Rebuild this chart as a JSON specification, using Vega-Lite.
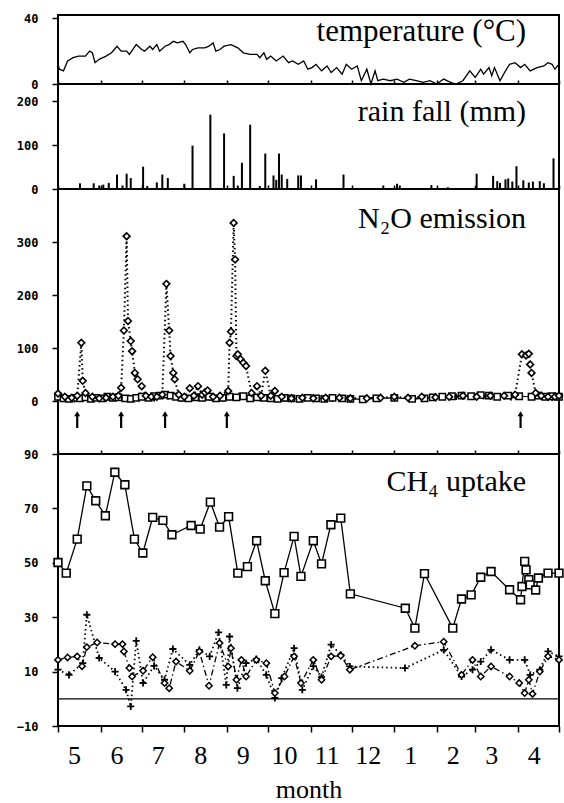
{
  "$schema": "https://vega.github.io/schema/vega-lite/v6.json",
  "padding": {"left": 15, "top": 11, "right": 5, "bottom": 5},
  "spacing": 0,
  "bounds": "flush",
  "background": "white",
  "config": {
    "view": {"stroke": "black", "strokeWidth": 2},
    "axis": {"labelFont": "DejaVu Sans Mono", "labelFontWeight": "bold", "labelFontSize": 12, "labelColor": "black", "tickColor": "black", "domainColor": "black", "grid": false, "tickWidth": 1.5, "labelOverlap": false},
    "concat": {"spacing": 0}
  },
  "datasets": {
    "temp": [
      {"day":0,"t":12},{"day":1,"t":9},{"day":4,"t":8},{"day":7,"t":14},{"day":11,"t":16},{"day":15,"t":17},{"day":20,"t":17},{"day":23,"t":20},{"day":25,"t":19},{"day":27,"t":13},{"day":30,"t":15},{"day":35,"t":17},{"day":39,"t":19},{"day":43,"t":23},{"day":46,"t":20},{"day":50,"t":20},{"day":52,"t":18},{"day":57,"t":24},{"day":61,"t":21},{"day":63,"t":20},{"day":67,"t":23},{"day":69,"t":21},{"day":72,"t":24},{"day":74,"t":20},{"day":78,"t":23},{"day":81,"t":24},{"day":84,"t":26},{"day":87,"t":25},{"day":91,"t":26},{"day":93,"t":24},{"day":96,"t":19},{"day":98,"t":21},{"day":102,"t":22},{"day":107,"t":22},{"day":110,"t":23},{"day":113,"t":25},{"day":115,"t":20},{"day":118,"t":21},{"day":121,"t":23},{"day":126,"t":24},{"day":131,"t":22},{"day":135,"t":19},{"day":140,"t":18},{"day":145,"t":18},{"day":147,"t":16},{"day":150,"t":19},{"day":152,"t":15},{"day":155,"t":17},{"day":159,"t":14},{"day":164,"t":17},{"day":168,"t":13},{"day":171,"t":14},{"day":175,"t":12},{"day":179,"t":14},{"day":182,"t":9},{"day":185,"t":10},{"day":188,"t":12},{"day":192,"t":8},{"day":196,"t":11},{"day":199,"t":7},{"day":203,"t":10},{"day":207,"t":6},{"day":210,"t":12},{"day":214,"t":9},{"day":218,"t":11},{"day":221,"t":2},{"day":225,"t":9},{"day":228,"t":0},{"day":231,"t":8},{"day":233,"t":2},{"day":237,"t":3},{"day":242,"t":2},{"day":247,"t":3},{"day":252,"t":1},{"day":256,"t":3},{"day":261,"t":2},{"day":266,"t":1},{"day":271,"t":2},{"day":276,"t":0},{"day":281,"t":3},{"day":286,"t":1},{"day":290,"t":0},{"day":295,"t":2},{"day":300,"t":8},{"day":304,"t":4},{"day":308,"t":9},{"day":310,"t":6},{"day":314,"t":10},{"day":316,"t":5},{"day":318,"t":10},{"day":322,"t":2},{"day":326,"t":8},{"day":329,"t":12},{"day":333,"t":13},{"day":337,"t":10},{"day":340,"t":12},{"day":344,"t":8},{"day":349,"t":10},{"day":354,"t":11},{"day":357,"t":13},{"day":360,"t":12},{"day":362,"t":9},{"day":365,"t":12}
    ],
    "rain": [
      {"day":16,"mm":13},{"day":26,"mm":13},{"day":30,"mm":8},{"day":33,"mm":10},{"day":37,"mm":14},{"day":43,"mm":33},{"day":47,"mm":8},{"day":50,"mm":35},{"day":53,"mm":25},{"day":62,"mm":51},{"day":65,"mm":7},{"day":72,"mm":15},{"day":76,"mm":33},{"day":80,"mm":25},{"day":92,"mm":12},{"day":98,"mm":99},{"day":111,"mm":170},{"day":121,"mm":127},{"day":128,"mm":30},{"day":131,"mm":8},{"day":134,"mm":60},{"day":140,"mm":147},{"day":147,"mm":7},{"day":151,"mm":81},{"day":157,"mm":31},{"day":159,"mm":21},{"day":161,"mm":81},{"day":163,"mm":33},{"day":167,"mm":23},{"day":175,"mm":31},{"day":177,"mm":31},{"day":188,"mm":22},{"day":208,"mm":33},{"day":237,"mm":8},{"day":247,"mm":12},{"day":249,"mm":8},{"day":272,"mm":9},{"day":284,"mm":4},{"day":305,"mm":35},{"day":317,"mm":30},{"day":320,"mm":18},{"day":322,"mm":14},{"day":326,"mm":22},{"day":328,"mm":24},{"day":331,"mm":17},{"day":334,"mm":52},{"day":339,"mm":20},{"day":343,"mm":15},{"day":346,"mm":17},{"day":351,"mm":18},{"day":354,"mm":13},{"day":361,"mm":70}
    ],
    "n2o_d": [
      {"day":0,"v":14},{"day":5,"v":8},{"day":10,"v":6},{"day":14,"v":10},{"day":17,"v":110},{"day":18,"v":38},{"day":20,"v":15},{"day":25,"v":8},{"day":30,"v":5},{"day":35,"v":6},{"day":40,"v":8},{"day":44,"v":10},{"day":46,"v":25},{"day":48,"v":133},{"day":50,"v":311},{"day":51,"v":151},{"day":53,"v":113},{"day":54,"v":94},{"day":56,"v":53},{"day":58,"v":41},{"day":61,"v":28},{"day":64,"v":10},{"day":68,"v":8},{"day":72,"v":8},{"day":76,"v":12},{"day":79,"v":221},{"day":81,"v":133},{"day":82,"v":85},{"day":84,"v":53},{"day":85,"v":41},{"day":88,"v":12},{"day":92,"v":8},{"day":96,"v":24},{"day":99,"v":10},{"day":102,"v":28},{"day":105,"v":12},{"day":107,"v":16},{"day":109,"v":20},{"day":113,"v":8},{"day":118,"v":10},{"day":124,"v":19},{"day":125,"v":110},{"day":126,"v":131},{"day":128,"v":336},{"day":129,"v":267},{"day":130,"v":85},{"day":131,"v":88},{"day":133,"v":79},{"day":135,"v":72},{"day":137,"v":66},{"day":141,"v":15},{"day":145,"v":28},{"day":148,"v":10},{"day":151,"v":57},{"day":155,"v":10},{"day":158,"v":19},{"day":163,"v":8},{"day":170,"v":5},{"day":178,"v":6},{"day":186,"v":5},{"day":195,"v":6},{"day":205,"v":6},{"day":213,"v":5},{"day":225,"v":5},{"day":235,"v":6},{"day":245,"v":8},{"day":255,"v":6},{"day":265,"v":8},{"day":275,"v":7},{"day":285,"v":8},{"day":295,"v":10},{"day":305,"v":8},{"day":315,"v":10},{"day":325,"v":10},{"day":333,"v":12},{"day":338,"v":88},{"day":341,"v":86},{"day":343,"v":89},{"day":344,"v":69},{"day":345,"v":53},{"day":348,"v":15},{"day":352,"v":10},{"day":357,"v":8},{"day":362,"v":8},{"day":365,"v":10}
    ],
    "n2o_s": [
      {"day":0,"v":8},{"day":4,"v":5},{"day":8,"v":4},{"day":12,"v":6},{"day":16,"v":5},{"day":20,"v":7},{"day":24,"v":4},{"day":28,"v":6},{"day":32,"v":5},{"day":36,"v":8},{"day":40,"v":6},{"day":44,"v":7},{"day":49,"v":5},{"day":53,"v":4},{"day":57,"v":6},{"day":61,"v":8},{"day":66,"v":6},{"day":70,"v":9},{"day":74,"v":10},{"day":78,"v":12},{"day":82,"v":10},{"day":86,"v":8},{"day":90,"v":6},{"day":95,"v":5},{"day":100,"v":7},{"day":105,"v":6},{"day":110,"v":8},{"day":115,"v":5},{"day":120,"v":6},{"day":125,"v":8},{"day":130,"v":7},{"day":135,"v":9},{"day":140,"v":5},{"day":145,"v":7},{"day":150,"v":6},{"day":155,"v":5},{"day":160,"v":4},{"day":165,"v":6},{"day":170,"v":5},{"day":176,"v":4},{"day":182,"v":6},{"day":188,"v":5},{"day":194,"v":4},{"day":200,"v":6},{"day":207,"v":5},{"day":213,"v":4},{"day":222,"v":3},{"day":232,"v":5},{"day":245,"v":6},{"day":258,"v":4},{"day":267,"v":5},{"day":273,"v":7},{"day":280,"v":8},{"day":287,"v":9},{"day":294,"v":10},{"day":301,"v":9},{"day":308,"v":11},{"day":314,"v":10},{"day":320,"v":8},{"day":328,"v":10},{"day":336,"v":9},{"day":345,"v":8},{"day":350,"v":10},{"day":355,"v":8},{"day":360,"v":9},{"day":365,"v":8}
    ],
    "n2o_p": [
      {"day":3,"v":5},{"day":12,"v":3},{"day":22,"v":6},{"day":33,"v":4},{"day":42,"v":8},{"day":52,"v":6},{"day":60,"v":10},{"day":70,"v":5},{"day":80,"v":9},{"day":90,"v":4},{"day":100,"v":12},{"day":111,"v":6},{"day":120,"v":5},{"day":132,"v":10},{"day":142,"v":8},{"day":153,"v":6},{"day":165,"v":4},{"day":180,"v":5},{"day":200,"v":4},{"day":230,"v":6},{"day":260,"v":5},{"day":290,"v":8},{"day":310,"v":9},{"day":330,"v":7},{"day":350,"v":12},{"day":360,"v":6}
    ],
    "arrows": [{"day":14},{"day":46},{"day":78},{"day":123},{"day":337}],
    "ch4_s": [
      {"day":0,"v":50.1},{"day":6,"v":46.2},{"day":14,"v":58.7},{"day":21,"v":78.3},{"day":27.5,"v":72.8},{"day":34.5,"v":67.3},{"day":41.4,"v":83.3},{"day":48.7,"v":78.7},{"day":55.7,"v":58.7},{"day":61.8,"v":53.6},{"day":69,"v":66.7},{"day":76.4,"v":65.6},{"day":83,"v":60.3},{"day":97,"v":63.7},{"day":103.6,"v":62.4},{"day":111,"v":72.3},{"day":117.7,"v":63.1},{"day":124.3,"v":67},{"day":131,"v":46.2},{"day":138,"v":48.6},{"day":144.7,"v":58.1},{"day":151,"v":43.4},{"day":158,"v":31.3},{"day":164.7,"v":46.4},{"day":172,"v":59.7},{"day":177,"v":45},{"day":186,"v":58.1},{"day":192,"v":49.6},{"day":198.8,"v":64},{"day":206,"v":66.4},{"day":213,"v":38.6},{"day":253,"v":33.3},{"day":260,"v":26},{"day":267,"v":46},{"day":287.6,"v":26},{"day":294,"v":36.7},{"day":301,"v":38.2},{"day":308,"v":44.7},{"day":315.5,"v":46.8},{"day":329,"v":40.1},{"day":337,"v":36.4},{"day":338,"v":41.3},{"day":340,"v":50.5},{"day":341,"v":47.4},{"day":343,"v":43.8},{"day":344,"v":41.9},{"day":348,"v":40},{"day":350,"v":44.4},{"day":357,"v":46.2},{"day":365,"v":46.2}
    ],
    "ch4_d": [
      {"day":0,"v":14.3},{"day":7,"v":15.2},{"day":14,"v":15.6},{"day":17.5,"v":12},{"day":21,"v":19},{"day":28.5,"v":20.7},{"day":41.6,"v":20.1},{"day":47,"v":20.1},{"day":48,"v":17.4},{"day":52,"v":11.3},{"day":54,"v":8.2},{"day":62,"v":10.3},{"day":69,"v":15.3},{"day":77.6,"v":5.8},{"day":81,"v":3.9},{"day":86,"v":13.7},{"day":96,"v":10.3},{"day":103,"v":17.4},{"day":110,"v":4.8},{"day":117.7,"v":20.5},{"day":124,"v":11.9},{"day":126,"v":18.6},{"day":130,"v":7},{"day":133.6,"v":14.3},{"day":137,"v":8.2},{"day":144.5,"v":14.3},{"day":151.8,"v":13.1},{"day":158,"v":2.1},{"day":165,"v":8.2},{"day":172,"v":15.6},{"day":177,"v":5.8},{"day":186,"v":14.3},{"day":192,"v":7},{"day":199,"v":15.6},{"day":206,"v":15.8},{"day":212.6,"v":10.7},{"day":260,"v":19.5},{"day":281,"v":21},{"day":294,"v":8.8},{"day":302,"v":14.3},{"day":308,"v":8.2},{"day":315.5,"v":11.9},{"day":329,"v":8.2},{"day":336,"v":5.8},{"day":340,"v":2.1},{"day":343,"v":7},{"day":345.7,"v":1.8},{"day":351,"v":10},{"day":357,"v":15.6},{"day":365,"v":14.3}
    ],
    "ch4_p": [
      {"day":0,"v":10.7},{"day":8,"v":8.8},{"day":18,"v":13.1},{"day":21,"v":30.9},{"day":30,"v":15},{"day":41.6,"v":10},{"day":49.6,"v":3.3},{"day":53,"v":-2.8},{"day":57,"v":21.3},{"day":62,"v":5.8},{"day":70,"v":12.1},{"day":77.6,"v":7},{"day":83.7,"v":18.3},{"day":96,"v":12.5},{"day":103,"v":18},{"day":110.5,"v":15.6},{"day":117,"v":24.4},{"day":122.6,"v":5.1},{"day":125,"v":22.9},{"day":130.7,"v":3.9},{"day":137,"v":13.1},{"day":144.5,"v":14.6},{"day":151.8,"v":8.8},{"day":158,"v":0.3},{"day":163,"v":7.6},{"day":172,"v":18.6},{"day":178,"v":3.3},{"day":186,"v":12},{"day":192,"v":8},{"day":199,"v":19.9},{"day":206,"v":16.2},{"day":212.6,"v":11.9},{"day":252.8,"v":11.3},{"day":281,"v":18},{"day":294,"v":8.2},{"day":302,"v":10.7},{"day":308,"v":13.7},{"day":315.5,"v":18},{"day":329,"v":14.3},{"day":340,"v":14.3},{"day":344,"v":8.8},{"day":351,"v":10.7},{"day":357,"v":17.4},{"day":365,"v":15.6}
    ]
  },
  "vconcat": [
    {
      "width": 501, "height": 69,
      "layer": [
        {"data": {"name": "temp"}, "mark": {"type": "line", "color": "black", "strokeWidth": 1.3},
         "encoding": {
           "x": {"field": "day", "type": "quantitative", "scale": {"domain": [0, 365], "nice": false, "zero": false}, "axis": {"values": [0,31,61,92,123,153,184,214,245,276,304,335,365], "labels": false, "tickSize": -4, "domain": false, "title": null}},
           "y": {"field": "t", "type": "quantitative", "scale": {"domain": [0, 42], "nice": false}, "axis": {"values": [0, 20, 40], "title": null, "tickSize": 6, "labelPadding": 14, "domain": false}}
         }},
        {"data": {"values": [{"label": "temperature (°C)"}]},
         "mark": {"type": "text", "font": "Liberation Serif", "fontSize": 31, "align": "right", "baseline": "alphabetic", "color": "black"},
         "encoding": {"x": {"datum": 341}, "y": {"datum": 26}, "text": {"field": "label"}}}
      ]
    },
    {
      "width": 501, "height": 105,
      "layer": [
        {"data": {"name": "rain"}, "mark": {"type": "rule", "color": "black", "strokeWidth": 2},
         "encoding": {
           "x": {"field": "day", "type": "quantitative", "scale": {"domain": [0, 365], "nice": false, "zero": false}, "axis": {"values": [0,31,61,92,123,153,184,214,245,276,304,335,365], "labels": false, "tickSize": -4, "domain": false, "title": null}},
           "y": {"field": "mm", "type": "quantitative", "scale": {"domain": [0, 240], "nice": false}, "axis": {"values": [0, 100, 200], "title": null, "tickSize": 6, "labelPadding": 14, "domain": false}},
           "y2": {"datum": 0}
         }},
        {"data": {"values": [{"label": "rain fall (mm)"}]},
         "mark": {"type": "text", "font": "Liberation Serif", "fontSize": 30, "align": "right", "baseline": "alphabetic", "color": "black"},
         "encoding": {"x": {"datum": 341}, "y": {"datum": 155}, "text": {"field": "label"}}}
      ]
    },
    {
      "width": 501, "height": 265,
      "layer": [
        {"data": {"name": "n2o_s"}, "mark": {"type": "line", "color": "black", "strokeWidth": 1.2},
         "encoding": {
           "x": {"field": "day", "type": "quantitative", "scale": {"domain": [0, 365], "nice": false, "zero": false}, "axis": {"values": [0,31,61,92,123,153,184,214,245,276,304,335,365], "labels": false, "tickSize": -4, "domain": false, "title": null}},
           "y": {"field": "v", "type": "quantitative", "scale": {"domain": [-100, 400], "nice": false}, "axis": {"values": [0, 100, 200, 300], "title": null, "tickSize": 6, "labelPadding": 14, "domain": false}}
         }},
        {"data": {"name": "n2o_d"}, "mark": {"type": "line", "color": "black", "strokeWidth": 2, "strokeDash": [1.5, 3]},
         "encoding": {"x": {"field": "day", "type": "quantitative"}, "y": {"field": "v", "type": "quantitative"}}},
        {"data": {"name": "n2o_p"}, "mark": {"type": "point", "shape": "M-1,0L1,0M0,-1L0,1", "size": 40, "filled": false, "color": "black", "strokeWidth": 1.8, "opacity": 1},
         "encoding": {"x": {"field": "day", "type": "quantitative"}, "y": {"field": "v", "type": "quantitative"}}},
        {"data": {"name": "n2o_s"}, "mark": {"type": "point", "shape": "square", "size": 40, "filled": true, "fill": "white", "stroke": "black", "strokeWidth": 1.5, "opacity": 1},
         "encoding": {"x": {"field": "day", "type": "quantitative"}, "y": {"field": "v", "type": "quantitative"}}},
        {"data": {"name": "n2o_d"}, "mark": {"type": "point", "shape": "diamond", "size": 45, "filled": true, "fill": "white", "stroke": "black", "strokeWidth": 1.6, "opacity": 1},
         "encoding": {"x": {"field": "day", "type": "quantitative"}, "y": {"field": "v", "type": "quantitative"}}},
        {"data": {"name": "arrows"}, "mark": {"type": "rule", "color": "black", "strokeWidth": 2.2},
         "encoding": {"x": {"field": "day", "type": "quantitative"}, "y": {"datum": -51}, "y2": {"datum": -26}}},
        {"data": {"name": "arrows"}, "mark": {"type": "point", "shape": "triangle-up", "size": 35, "filled": true, "color": "black", "opacity": 1},
         "encoding": {"x": {"field": "day", "type": "quantitative"}, "y": {"datum": -24}}},
        {"data": {"values": [{"label": "N₂O emission"}]},
         "mark": {"type": "text", "font": "Liberation Serif", "fontSize": 30, "align": "right", "baseline": "alphabetic", "color": "black"},
         "encoding": {"x": {"datum": 341}, "y": {"datum": 326}, "text": {"field": "label"}}}
      ]
    },
    {
      "width": 501, "height": 272,
      "layer": [
        {"data": {"name": "ch4_s"}, "mark": {"type": "line", "color": "black", "strokeWidth": 1.3},
         "encoding": {
           "x": {"field": "day", "type": "quantitative", "scale": {"domain": [0, 365], "nice": false, "zero": false},
                 "axis": {"values": [0,31,61,92,123,153,184,214,245,276,304,335,365], "labelExpr": "datum.value >= 365 ? '' : ['5','6','7','8','9','10','11','12','1','2','3','4'][indexof([0,31,61,92,123,153,184,214,245,276,304,335], datum.value)]", "tickSize": 6, "labelOffset": 16, "labelFlush": false, "labelOverlap": false, "labelBound": false, "labelFont": "Liberation Serif", "labelFontWeight": "normal", "labelFontSize": 26, "labelPadding": 10, "domain": false, "title": "month", "titleFont": "Liberation Serif", "titleFontWeight": "normal", "titleFontSize": 26, "titlePadding": 8, "titleColor": "black"}},
           "y": {"field": "v", "type": "quantitative", "scale": {"domain": [-10, 90], "nice": false}, "axis": {"values": [-10, 0, 10, 20, 30, 40, 50, 60, 70, 80, 90], "title": null, "tickSize": 6, "labelPadding": 14, "domain": false, "labelOverlap": false}}
         }},
        {"mark": {"type": "rule", "color": "black", "strokeWidth": 1.2}, "data": {"values": [{"v": 0}]},
         "encoding": {"y": {"field": "v", "type": "quantitative"}}},
        {"data": {"name": "ch4_d"}, "mark": {"type": "line", "color": "black", "strokeWidth": 1.3, "strokeDash": [6, 3, 1.5, 3]},
         "encoding": {"x": {"field": "day", "type": "quantitative"}, "y": {"field": "v", "type": "quantitative"}}},
        {"data": {"name": "ch4_p"}, "mark": {"type": "line", "color": "black", "strokeWidth": 1.8, "strokeDash": [1.5, 3]},
         "encoding": {"x": {"field": "day", "type": "quantitative"}, "y": {"field": "v", "type": "quantitative"}}},
        {"data": {"name": "ch4_p"}, "mark": {"type": "point", "shape": "M-1,0L1,0M0,-1L0,1", "size": 50, "filled": false, "color": "black", "strokeWidth": 1.8, "opacity": 1},
         "encoding": {"x": {"field": "day", "type": "quantitative"}, "y": {"field": "v", "type": "quantitative"}}},
        {"data": {"name": "ch4_d"}, "mark": {"type": "point", "shape": "diamond", "size": 40, "filled": true, "fill": "white", "stroke": "black", "strokeWidth": 1.5, "opacity": 1},
         "encoding": {"x": {"field": "day", "type": "quantitative"}, "y": {"field": "v", "type": "quantitative"}}},
        {"data": {"name": "ch4_s"}, "mark": {"type": "point", "shape": "square", "size": 60, "filled": true, "fill": "white", "stroke": "black", "strokeWidth": 1.6, "opacity": 1},
         "encoding": {"x": {"field": "day", "type": "quantitative"}, "y": {"field": "v", "type": "quantitative"}}},
        {"data": {"values": [{"label": "CH₄ uptake"}]},
         "mark": {"type": "text", "font": "Liberation Serif", "fontSize": 30, "align": "right", "baseline": "alphabetic", "color": "black"},
         "encoding": {"x": {"datum": 341}, "y": {"datum": 76.5}, "text": {"field": "label"}}}
      ]
    }
  ]
}
